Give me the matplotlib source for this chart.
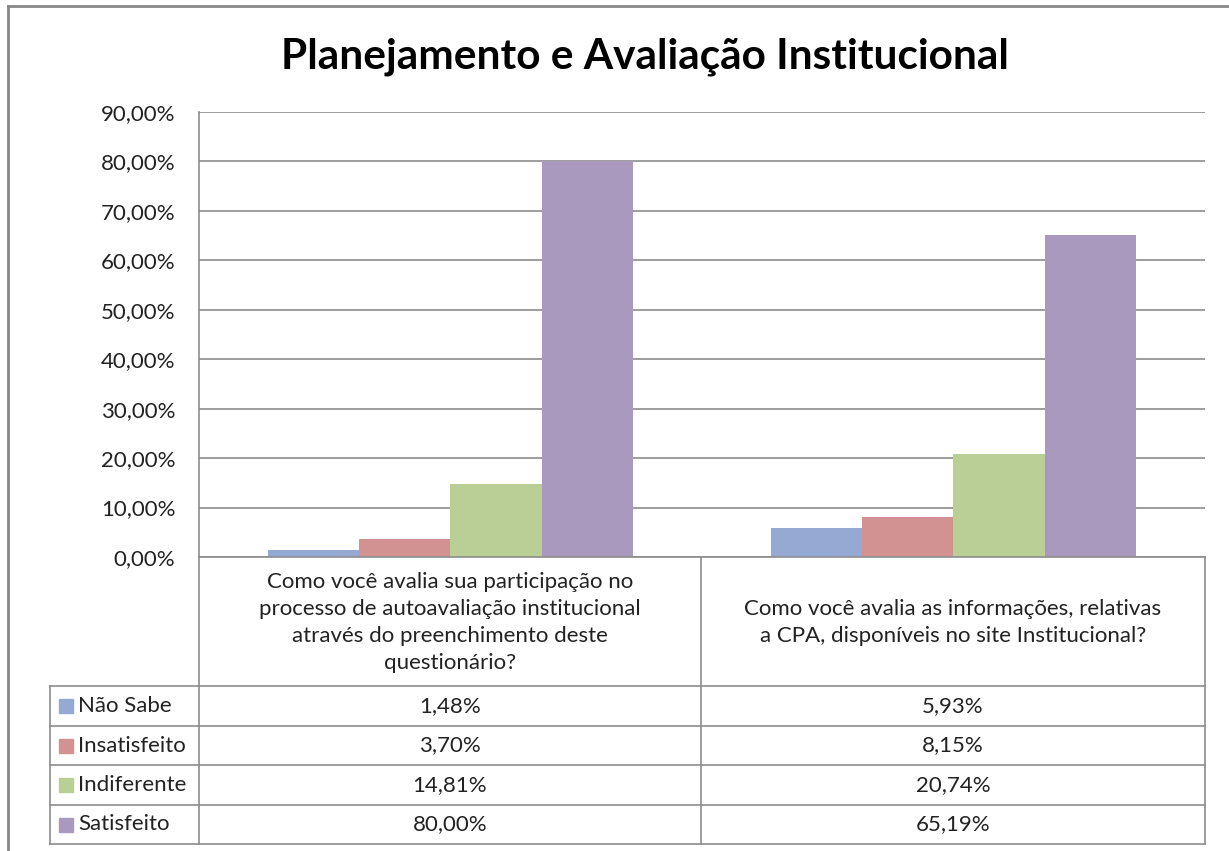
import numpy as np
import matplotlib.pyplot as plt
from matplotlib.lines import Line2D

plt.rcParams['font.family'] = ['Lato', 'DejaVu Sans']

# Data
categories = [
    "Como você avalia sua participação no\nprocesso de autoavaliação institucional\natravés do preenchimento deste\nquestionário?",
    "Como você avalia as informações, relativas\na CPA, disponíveis no site Institucional?",
]
series = ["Não Sabe", "Insatisfeito", "Indiferente", "Satisfeito"]
nao_sabe = [1.48, 5.93]
insatisfeito = [3.70, 8.15]
indiferente = [14.81, 20.74]
satisfeito = [80.00, 65.19]
values = [nao_sabe, insatisfeito, indiferente, satisfeito]
colors = ["#94AAD3", "#D19291", "#B9CF96", "#A999BF"]
yticks = np.arange(0, 91, 10)

W, H = 1229, 851
fig = plt.figure(figsize=(W / 100, H / 100), dpi=100)

def fx(px):
    return px / W

def fy(py):
    return 1 - py / H

grid_c = "#8C8C8C"
txt_c = "#222222"
fs = 16
left, right, top, bottom = 199, 1205, 112, 557
ax = fig.add_axes([fx(left), fy(bottom), fx(right) - fx(left), fy(top) - fy(bottom)])

# bars: gap width 150% of bar width
n = len(series)
bw = 1.0 / (n + 1.5)
x = np.arange(len(categories))
for i, (name, vals) in enumerate(zip(series, values)):
    ax.bar(x - 2 * bw + (i + 0.5) * bw, vals, width=bw, color=colors[i], zorder=3)

ax.set_xlim(-0.5, len(categories) - 0.5)
ax.set_ylim(0, 90)
ax.set_yticks(yticks)
ax.set_yticklabels([f"{v:.2f}%".replace(".", ",") for v in yticks], fontsize=fs, color=txt_c)
ax.tick_params(axis="y", length=0, pad=17)
ax.set_xticks([])
ax.grid(axis="y", color=grid_c, linewidth=1.2, zorder=0)
for s in ["top", "right", "bottom"]:
    ax.spines[s].set_visible(False)
ax.spines["left"].set_color(grid_c)
ax.spines["left"].set_linewidth(1.2)

# Title
fig.text(fx(645), fy(57), "Planejamento e Avaliação Institucional", ha="center", va="center",
         fontsize=30.5, fontweight="bold", color="black")

# outer frame
def line(x0, y0, x1, y1, c=grid_c, lw=1.2):
    fig.add_artist(Line2D([fx(x0), fx(x1)], [fy(y0), fy(y1)], color=c, linewidth=lw))

line(8, 6, 1229, 6, c="#888888", lw=2)
line(8, 6, 8, 851, c="#888888", lw=2)

# data table
mid = 701
rows = [686, 726, 765, 805, 844]
legend_left = 50
line(left, bottom, left, rows[-1])
line(mid, bottom, mid, rows[-1])
line(right, bottom, right, rows[-1])
line(legend_left, rows[0], legend_left, rows[-1])
line(left, bottom, right, bottom)
for r in rows:
    line(legend_left, r, right, r)

col_centers = [(left + mid) / 2, (mid + right) / 2]
for j, cat in enumerate(categories):
    fig.text(fx(col_centers[j]), fy((bottom + rows[0]) / 2 + 1), cat, ha="center", va="center",
             multialignment="center", fontsize=fs, color=txt_c, linespacing=1.45)

for i, (name, vals) in enumerate(zip(series, values)):
    yc = (rows[i] + rows[i + 1]) / 2
    fig.patches.append(plt.Rectangle((fx(59), fy(yc + 7)), fx(14), fy(0) - fy(14),
                                     transform=fig.transFigure, color=colors[i], figure=fig))
    fig.text(fx(78), fy(yc), name, ha="left", va="center", fontsize=fs, color=txt_c)
    for j, v in enumerate(vals):
        fig.text(fx(col_centers[j]), fy(yc), f"{v:.2f}%".replace(".", ","), ha="center",
                 va="center", fontsize=fs, color=txt_c)

fig.savefig("out.png", dpi=100)
